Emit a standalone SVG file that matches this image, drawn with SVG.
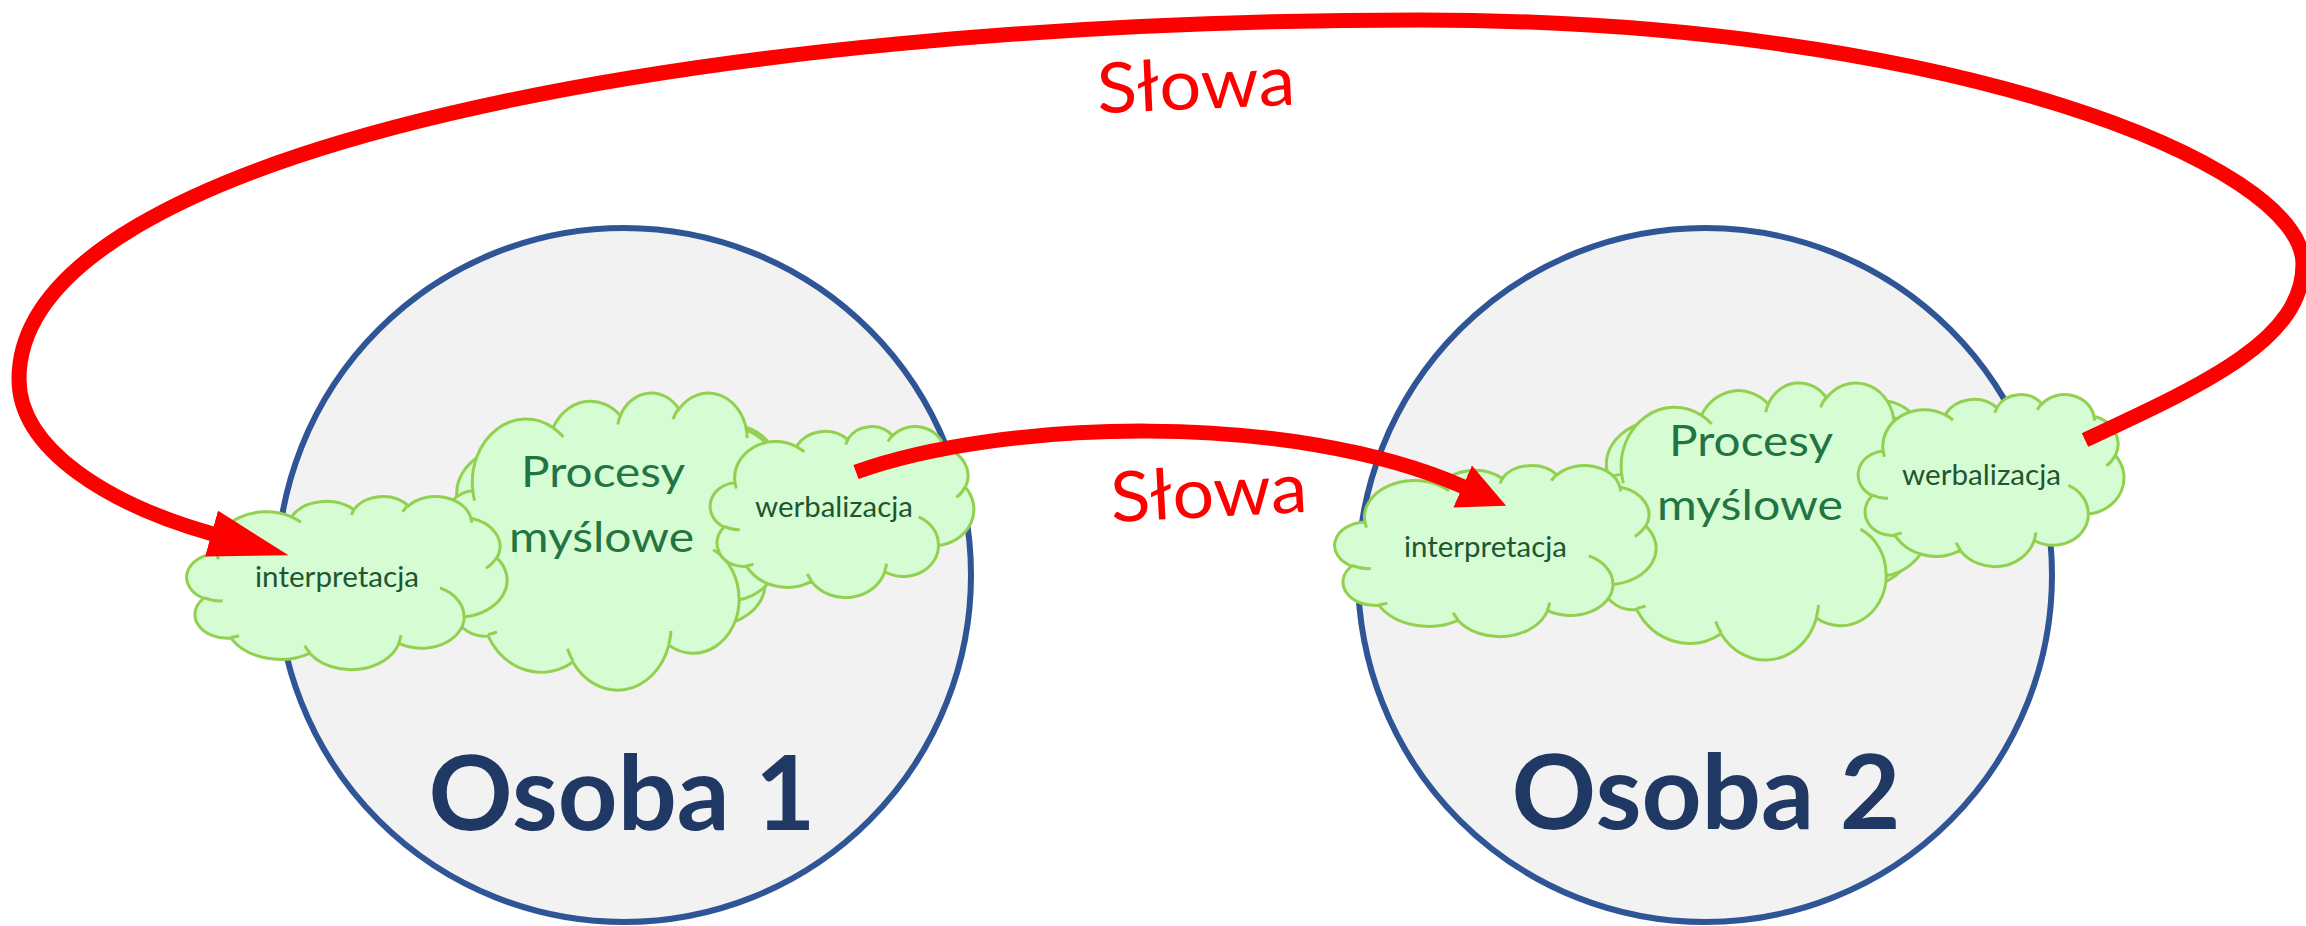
<svg xmlns="http://www.w3.org/2000/svg" xmlns:xlink="http://www.w3.org/1999/xlink" width="2306" height="926" viewBox="0 0 2306 926">
  <style>
    .person { fill: #F2F2F2; stroke: #2F5597; stroke-width: 6; }
    .personLabel { font-family: Lato, "Liberation Sans", sans-serif; font-weight: bold; font-size: 104px; fill: #203864; text-anchor: middle; }
    .cloud { fill: #D6FCD4; stroke: #92D050; stroke-width: 3; }
    .cloudLines { fill: none; }
    .bigText { font-family: Lato, "Liberation Sans", sans-serif; font-size: 43px; fill: #237443; text-anchor: middle; }
    .smallText { font-family: Lato, "Liberation Sans", sans-serif; font-size: 29px; fill: #1E5631; text-anchor: middle; }
    .flow { fill: none; stroke: #FF0000; stroke-width: 15; stroke-linecap: butt; }
    .flowLabel { font-family: Lato, "Liberation Sans", sans-serif; font-size: 70px; fill: #FF0000; text-anchor: middle; }
  </style>
  <defs>
    <!-- cloud outline in a 43200 x 43200 unit box, with the inner bump strokes -->
    <g id="cloudShape">
      <path vector-effect="non-scaling-stroke" d="M3900 14370 A6753 9190 0 0 1 14005 5202 A5333 7267 0 0 1 22457 3434 A4365 5945 0 0 1 29835 2483 A4857 6595 0 0 1 38320 5579 A5333 7273 0 0 1 41820 15462 A6775 9220 0 0 1 37405 30204 A5785 7867 0 0 1 28557 36815 A6752 9215 0 0 1 16482 39267 A7720 10543 0 0 1 5806 35473 A4360 5918 0 0 1 2115 25552 A4345 5945 0 0 1 3900 14370 Z"/>
      <path class="cloudLines" vector-effect="non-scaling-stroke" d="M4693 26177 A4345 5945 0 0 1 2160 25380 M6928 34899 A4360 5918 0 0 1 5820 35280 M16478 39090 A6752 9215 0 0 1 15810 37349 M28827 34751 A6752 9215 0 0 1 28560 36660 M34129 22954 A5785 7867 0 0 1 37380 30090 M41798 15354 A5333 7273 0 0 1 40350 18030 M38324 5426 A4857 6595 0 0 1 38400 6690 M29078 3952 A4857 6595 0 0 1 29820 2341 M22141 4720 A4365 5945 0 0 1 22500 3330 M14000 5192 A6753 9190 0 0 1 15301 6542 M4127 15789 A6753 9190 0 0 1 3900 14371"/>
    </g>
    <marker id="headLong" markerUnits="strokeWidth" markerWidth="5.33" markerHeight="3.2" viewBox="0 -1.6 5.33 3.2" refX="0.1" refY="0" orient="auto">
      <path d="M0,-1.59 L5.33,0 L0,1.59 Z" fill="#FF0000"/>
    </marker>
    <marker id="headShort" markerUnits="strokeWidth" markerWidth="3.17" markerHeight="3.1" viewBox="0 -1.55 3.17 3.1" refX="0.1" refY="0" orient="auto">
      <path d="M0,-1.53 L3.17,0 L0,1.53 Z" fill="#FF0000"/>
    </marker>
  </defs>

  <rect width="2306" height="926" fill="#FFFFFF"/>

  <!-- the two people -->
  <g id="osoba1">
    <circle class="person" cx="624" cy="575" r="347"/>
    <text class="personLabel" x="622" y="830" textLength="387" lengthAdjust="spacingAndGlyphs">Osoba 1</text>
  </g>
  <g id="osoba2">
    <circle class="person" cx="1705" cy="575" r="347"/>
    <text class="personLabel" x="1706" y="829" textLength="389" lengthAdjust="spacingAndGlyphs">Osoba 2</text>
  </g>

  <!-- thought clouds of person 1 -->
  <g id="tlo1">
    <use class="cloud" xlink:href="#cloudShape" transform="translate(421.4 424) scale(0.009190 0.005300)"/>
  </g>
  <g id="procesy1">
    <use class="cloud" xlink:href="#cloudShape" transform="translate(441.8 392) scale(0.007950 0.006875)"/>
    <text class="bigText" x="603" y="487" textLength="164" lengthAdjust="spacingAndGlyphs">Procesy</text>
    <text class="bigText" x="601.5" y="552" textLength="185" lengthAdjust="spacingAndGlyphs">myślowe</text>
  </g>
  <g id="interpretacja1">
    <use class="cloud" xlink:href="#cloudShape" transform="translate(188 496) scale(0.007384 0.004005)"/>
    <text class="smallText" x="337" y="587" textLength="164" lengthAdjust="spacingAndGlyphs">interpretacja</text>
  </g>
  <g id="werbalizacja1">
    <use class="cloud" xlink:href="#cloudShape" transform="translate(711.3 426) scale(0.006076 0.003958)"/>
    <text class="smallText" x="834" y="517" textLength="158" lengthAdjust="spacingAndGlyphs">werbalizacja</text>
  </g>

  <!-- thought clouds of person 2 -->
  <g id="tlo2">
    <use class="cloud" xlink:href="#cloudShape" transform="translate(1571.5 399) scale(0.009074 0.004950)"/>
  </g>
  <g id="procesy2">
    <use class="cloud" xlink:href="#cloudShape" transform="translate(1590.8 382) scale(0.007900 0.006412)"/>
    <text class="bigText" x="1751" y="456" textLength="164" lengthAdjust="spacingAndGlyphs">Procesy</text>
    <text class="bigText" x="1750" y="520" textLength="186" lengthAdjust="spacingAndGlyphs">myślowe</text>
  </g>
  <g id="interpretacja2">
    <use class="cloud" xlink:href="#cloudShape" transform="translate(1336 465) scale(0.007407 0.003958)"/>
    <text class="smallText" x="1485.5" y="557" textLength="163" lengthAdjust="spacingAndGlyphs">interpretacja</text>
  </g>
  <g id="werbalizacja2">
    <use class="cloud" xlink:href="#cloudShape" transform="translate(1859.3 394) scale(0.006125 0.003981)"/>
    <text class="smallText" x="1981.5" y="485" textLength="159" lengthAdjust="spacingAndGlyphs">werbalizacja</text>
  </g>

  <!-- word flows between the people -->
  <g id="connectors">
    <path class="flow" marker-end="url(#headLong)" d="M2085 440 C2205 384 2303 340 2303 264 C2303 165 1950 20 1420 20 C700 20 19 150 19 379 C19 450 110 505 213 534"/>
    <path class="flow" marker-end="url(#headShort)" d="M856 472 C1000 420 1290 410 1464 487"/>
    <text class="flowLabel" x="1197" y="109" textLength="198" lengthAdjust="spacingAndGlyphs" transform="rotate(-2.5 1197 109)">Słowa</text>
    <text class="flowLabel" x="1210" y="517" textLength="197" lengthAdjust="spacingAndGlyphs" transform="rotate(-3 1210 517)">Słowa</text>
  </g>
</svg>
